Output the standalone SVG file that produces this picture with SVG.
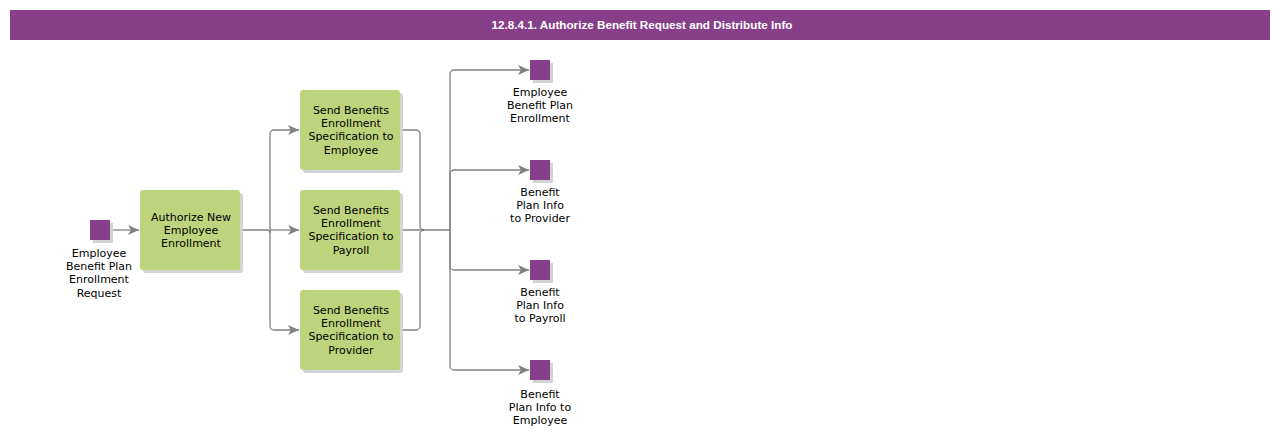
<svg xmlns="http://www.w3.org/2000/svg" width="1280" height="440" viewBox="0 0 1280 440">
<style>
.t{font-family:"DejaVu Sans",Verdana,sans-serif;font-size:11px;fill:#000;text-anchor:middle}
.task{fill:#BDD47D}
.sq{fill:#873F8A}
.sh{fill:#d4d4d4}
.c{fill:none;stroke:#808080;stroke-width:1.3}
</style>
<defs>
<marker id="a" markerWidth="12" markerHeight="10" refX="11" refY="5" orient="auto" markerUnits="userSpaceOnUse">
<path d="M0,0 L11,5 L0,10 L3,5 Z" fill="#808080"/>
</marker>
</defs>
<rect x="0" y="0" width="1280" height="440" fill="#fff"/>
<g id="title">
<rect x="10" y="10" width="1260" height="30" fill="#873F8A"/>
<text x="642" y="29" style="font-family:'Liberation Sans',Arial,sans-serif;font-size:11.7px;font-weight:bold;fill:#fff;text-anchor:middle">12.8.4.1. Authorize Benefit Request and Distribute Info</text>
</g>
<g id="connectors">
<path class="c" d="M110,230 H139" marker-end="url(#a)"/>
<path class="c" d="M240,230 H267 a3,3 0 0 1 3,3"/>
<path class="c" d="M270,230 V134 a4,4 0 0 1 4,-4 H299" marker-end="url(#a)"/>
<path class="c" d="M270,230 H299" marker-end="url(#a)"/>
<path class="c" d="M270,230 V326 a4,4 0 0 0 4,4 H299" marker-end="url(#a)"/>
<path class="c" d="M400,130 H416 a4,4 0 0 1 4,4 V226 a4,4 0 0 0 4,4"/>
<path class="c" d="M400,330 H416 a4,4 0 0 0 4,-4 V234 a4,4 0 0 1 4,-4"/>
<path class="c" d="M400,230 H450"/>
<path class="c" d="M450,230 V74 a4,4 0 0 1 4,-4 H529" marker-end="url(#a)"/>
<path class="c" d="M450,230 V174 a4,4 0 0 1 4,-4 H529" marker-end="url(#a)"/>
<path class="c" d="M450,230 V266 a4,4 0 0 0 4,4 H529" marker-end="url(#a)"/>
<path class="c" d="M450,230 V366 a4,4 0 0 0 4,4 H529" marker-end="url(#a)"/>
</g>
<g id="start">
<rect class="sh" x="93" y="223" width="20" height="20"/>
<rect class="sq" x="90" y="220" width="20" height="20"/>
<text class="t" x="99" y="257">Employee</text>
<text class="t" x="99" y="270">Benefit Plan</text>
<text class="t" x="99" y="283">Enrollment</text>
<text class="t" x="99" y="297">Request</text>
</g>
<g id="authorize">
<rect class="sh" x="143" y="193" width="100" height="80" rx="3"/>
<rect class="task" x="140" y="190" width="100" height="80" rx="3"/>
<text class="t" x="191" y="221">Authorize New</text>
<text class="t" x="191" y="234">Employee</text>
<text class="t" x="191" y="247">Enrollment</text>
</g>
<g id="send-employee">
<rect class="sh" x="303" y="93" width="100" height="80" rx="3"/>
<rect class="task" x="300" y="90" width="100" height="80" rx="3"/>
<text class="t" x="351" y="114">Send Benefits</text>
<text class="t" x="351" y="127">Enrollment</text>
<text class="t" x="351" y="140">Specification to</text>
<text class="t" x="351" y="154">Employee</text>
</g>
<g id="send-payroll">
<rect class="sh" x="303" y="193" width="100" height="80" rx="3"/>
<rect class="task" x="300" y="190" width="100" height="80" rx="3"/>
<text class="t" x="351" y="214">Send Benefits</text>
<text class="t" x="351" y="227">Enrollment</text>
<text class="t" x="351" y="240">Specification to</text>
<text class="t" x="351" y="254">Payroll</text>
</g>
<g id="send-provider">
<rect class="sh" x="303" y="293" width="100" height="80" rx="3"/>
<rect class="task" x="300" y="290" width="100" height="80" rx="3"/>
<text class="t" x="351" y="314">Send Benefits</text>
<text class="t" x="351" y="327">Enrollment</text>
<text class="t" x="351" y="340">Specification to</text>
<text class="t" x="351" y="354">Provider</text>
</g>
<g id="end-enrollment">
<rect class="sh" x="533" y="63" width="20" height="20"/>
<rect class="sq" x="530" y="60" width="20" height="20"/>
<text class="t" x="540" y="96">Employee</text>
<text class="t" x="540" y="109">Benefit Plan</text>
<text class="t" x="540" y="122">Enrollment</text>
</g>
<g id="end-provider">
<rect class="sh" x="533" y="163" width="20" height="20"/>
<rect class="sq" x="530" y="160" width="20" height="20"/>
<text class="t" x="540" y="196">Benefit</text>
<text class="t" x="540" y="209">Plan Info</text>
<text class="t" x="540" y="222">to Provider</text>
</g>
<g id="end-payroll">
<rect class="sh" x="533" y="263" width="20" height="20"/>
<rect class="sq" x="530" y="260" width="20" height="20"/>
<text class="t" x="540" y="296">Benefit</text>
<text class="t" x="540" y="309">Plan Info</text>
<text class="t" x="540" y="322">to Payroll</text>
</g>
<g id="end-employee">
<rect class="sh" x="533" y="363" width="20" height="20"/>
<rect class="sq" x="530" y="360" width="20" height="20"/>
<text class="t" x="540" y="398">Benefit</text>
<text class="t" x="540" y="411">Plan Info to</text>
<text class="t" x="540" y="424">Employee</text>
</g>
</svg>
